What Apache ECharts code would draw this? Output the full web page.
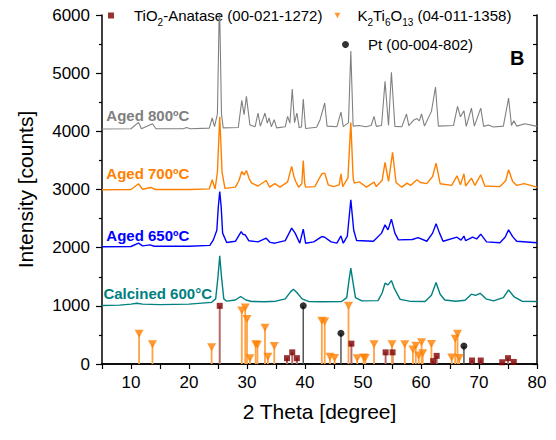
<!DOCTYPE html>
<html><head><meta charset="utf-8">
<script src="https://cdn.jsdelivr.net/npm/echarts@6/dist/echarts.min.js"></script>
<style>html,body{margin:0;padding:0;background:#fff}#c{width:556px;height:440px}</style>
</head><body><div id="c"></div>
<script>
// ---- measured patterns: [2theta (deg), intensity (counts)] ----
const calcined600 = [[5,1005],[8,1012],[10,1030],[11,1045],[12,1030],[15,1020],[20,1030],[23.9,1060],[24.6,1120],[25.0,1500],[25.3,1860],[25.6,1500],[26.0,1120],[26.5,1080],[28.0,1100],[28.9,1160],[29.8,1100],[30.8,1075],[33,1070],[35,1080],[36.6,1120],[37.5,1240],[38.0,1285],[38.6,1230],[39.5,1120],[40.6,1075],[43,1070],[46.3,1075],[47.2,1140],[47.6,1450],[47.9,1647],[48.2,1450],[48.7,1140],[49.8,1085],[52.6,1090],[53.3,1220],[53.8,1389],[54.3,1360],[54.9,1434],[55.4,1300],[56.4,1110],[58,1080],[60.7,1075],[61.8,1180],[62.6,1400],[63.3,1200],[64.1,1100],[66,1080],[67.6,1095],[68.7,1200],[69.4,1180],[70.2,1216],[71.2,1120],[72.5,1085],[74.2,1140],[75.1,1274],[76.0,1160],[77.4,1080],[80,1075]];
const aged650 = [[5,2015],[10,2020],[11.3,2077],[12,2030],[13.3,2048],[14,2025],[20,2025],[23.6,2040],[24.2,2134],[24.8,2300],[25.05,2700],[25.3,2966],[25.55,2700],[25.8,2250],[26.5,2090],[28.0,2110],[29.0,2277],[29.3,2230],[29.7,2220],[30.3,2120],[31.9,2100],[33.3,2163],[34.0,2090],[34.8,2077],[36.6,2120],[37.7,2335],[38.3,2250],[39.1,2077],[39.7,2318],[40.1,2077],[41.5,2100],[42.9,2191],[43.4,2180],[44.5,2100],[45.5,2077],[46.2,2203],[46.6,2077],[47.3,2200],[47.9,2823],[48.4,2300],[48.9,2122],[51.8,2110],[53.2,2250],[53.8,2392],[54.3,2306],[54.9,2490],[55.5,2250],[56.1,2134],[58.5,2140],[59.5,2174],[61.0,2110],[62.0,2250],[62.6,2410],[63.2,2250],[63.8,2110],[66.2,2180],[66.9,2130],[67.4,2200],[67.7,2120],[68.9,2180],[69.6,2150],[70.3,2232],[71.3,2100],[73.6,2085],[74.5,2180],[75.1,2306],[75.8,2190],[76.5,2110],[80,2085]];
const aged700 = [[5,2995],[10,3000],[11.3,3098],[12,3005],[13.4,3035],[14.2,3000],[20,3000],[23.5,3010],[24.0,3167],[24.5,3010],[24.9,3300],[25.3,4250],[25.7,3300],[26.2,3020],[28.0,3040],[28.6,3150],[29.1,3310],[29.5,3250],[29.9,3327],[30.4,3180],[30.8,3110],[31.9,3060],[33.3,3155],[33.9,3040],[34.8,3100],[35.7,3040],[37.0,3130],[37.7,3396],[38.1,3220],[38.4,3138],[38.9,3040],[39.45,3100],[39.7,3499],[39.95,3100],[40.1,3040],[41.7,3050],[42.4,3180],[42.9,3270],[43.4,3282],[44.0,3081],[44.9,3050],[45.9,3080],[46.2,3270],[46.5,3050],[47.4,3200],[47.9,4150],[48.3,3200],[48.5,3110],[49.4,3130],[50.6,3040],[51.9,3127],[52.3,3050],[53.3,3160],[53.8,3465],[54.4,3138],[55.1,3637],[55.7,3120],[56.7,3040],[57.6,3110],[58.2,3070],[59.3,3167],[59.9,3120],[61.0,3100],[62.0,3224],[62.6,3454],[63.3,3100],[65.3,3070],[66.2,3236],[66.8,3080],[67.4,3270],[67.7,3060],[68.7,3196],[69.3,3070],[70.3,3253],[71.0,3060],[73.6,3050],[74.6,3150],[75.1,3339],[75.8,3138],[76.5,3070],[77.8,3100],[80,3040]];
const aged800 = [[5,4040],[10,4045],[11.3,4153],[11.8,4045],[13.7,4131],[14.3,4045],[19.0,4045],[19.6,4067],[20.2,4045],[23.5,4055],[24.0,4229],[24.4,4080],[24.9,4300],[25.25,6300],[25.6,4300],[25.9,4060],[28.5,4065],[29.1,4532],[29.5,4286],[29.9,4601],[30.5,4110],[31.4,4080],[31.9,4315],[32.3,4090],[33.1,4315],[33.5,4140],[33.8,4229],[34.2,4080],[34.7,4200],[35.1,4060],[36.6,4080],[37.0,4257],[37.4,4140],[37.8,4728],[38.2,4150],[38.6,4315],[39.0,4060],[39.4,4080],[39.7,4555],[40.1,4050],[42.0,4070],[42.6,4200],[43.4,4487],[43.8,4090],[45.5,4080],[46.2,4332],[46.6,4080],[47.5,4150],[47.9,5380],[48.3,4090],[49.3,4100],[50.5,4080],[51.4,4100],[51.9,4257],[52.3,4085],[53.2,4100],[53.8,4859],[54.4,4100],[54.9,5017],[55.5,4085],[56.7,4080],[57.5,4298],[57.9,4100],[58.7,4190],[59.3,4220],[59.7,4180],[60.1,4298],[60.6,4090],[61.8,4343],[62.5,4762],[63.0,4090],[65.6,4100],[66.3,4429],[66.8,4250],[67.4,4355],[67.8,4085],[68.7,4400],[69.2,4090],[70.3,4400],[70.8,4085],[71.6,4110],[72.5,4075],[74.2,4090],[75.1,4573],[75.6,4100],[76.0,4180],[76.5,4090],[77.9,4130],[80,4085]];

// ---- reference stick patterns ----
const anataseX = [25.3, 36.9, 37.8, 38.6, 48.0, 53.9, 55.1, 62.1, 62.7, 68.8, 70.3, 74.0, 75.0, 76.0];
const anataseY = [1000, 100, 200, 100, 350, 200, 200, 50, 140, 60, 60, 30, 100, 35];
const k2tiX = [11.4, 13.7, 23.9, 29.1, 29.7, 30.0, 30.5, 31.5, 31.8, 33.1, 33.6, 34.7, 42.9, 43.4, 44.3, 45.1, 47.5, 49.0, 50.1, 50.4, 51.9, 55.0, 57.2, 58.6, 59.1, 59.6, 60.1, 60.3, 61.8, 65.3, 65.9, 66.3, 66.6];
const k2tiY = [520, 340, 290, 920, 970, 775, 100, 340, 330, 625, 125, 310, 745, 730, 125, 105, 1000, 100, 110, 105, 340, 340, 340, 250, 315, 145, 375, 185, 345, 110, 435, 520, 105];
const ptX = [39.7, 46.2, 67.4];
const ptY = [1000, 530, 310];

const phaseNames = ['TiO2-Anatase (00-021-1272)', 'K2Ti6O13 (04-011-1358)', 'Pt (00-004-802)'];
const curveNames = ['Calcined 600°C', 'Aged 650ºC', 'Aged 700ºC', 'Aged 800ºC'];
const curveColors = ['#008080', '#0000FF', '#FF8000', '#808080'];
const curveData = [calcined600, aged650, aged700, aged800];
const labelAnchors = [[14.6, 1205], [12.9, 2203], [12.9, 3270], [12.9, 4268]];

const FONT = 'Liberation Sans, Arial, sans-serif';
const triPath = 'path://M0,0L10,0L5,9Z';

function pairs(xs, ys) { return xs.map((x, i) => [x, ys[i]]); }
function sticks(name, xs, ys, color, w) {
  return {
    type: 'custom', name: name, silent: true, z: 2, clip: true,
    data: pairs(xs, ys), encode: { x: 0, y: 1 },
    renderItem: function (params, api) {
      const a = api.coord([api.value(0), 0]);
      const b = api.coord([api.value(0), api.value(1)]);
      return { type: 'line', shape: { x1: a[0], y1: a[1], x2: b[0], y2: b[1] }, style: { stroke: color, lineWidth: w } };
    }
  };
}

const series = [];
curveData.forEach(function (d, i) {
  series.push({
    type: 'line', name: curveNames[i], data: d, showSymbol: false, symbol: 'none',
    lineStyle: { color: curveColors[i], width: i === 3 ? 1.1 : 1.4 }, z: 3 + i, clip: true, animation: false,
    markPoint: {
      symbol: 'circle', symbolSize: 0, animation: false,
      data: [{ coord: labelAnchors[i], value: curveNames[i] }],
      label: { show: true, position: 'inside', formatter: curveNames[i], color: curveColors[i], fontSize: 15, fontWeight: 'bold', fontFamily: FONT }
    }
  });
});
series.push(sticks('s1', anataseX, anataseY, '#B86A6A', 2));
series.push(sticks('s2', k2tiX, k2tiY, '#FFA347', 1.8));
series.push(sticks('s3', ptX, ptY, '#555555', 1.5));
series.push({ type: 'scatter', name: phaseNames[0], data: pairs(anataseX, anataseY), symbol: 'rect', symbolSize: 6, itemStyle: { color: '#800000' }, z: 8, silent: true });
series.push({ type: 'scatter', name: phaseNames[1], data: pairs(k2tiX, k2tiY), symbol: triPath, symbolSize: [9, 8], itemStyle: { color: '#FF8000' }, z: 8, silent: true });
series.push({ type: 'scatter', name: phaseNames[2], data: pairs(ptX, ptY), symbol: 'circle', symbolSize: 7, itemStyle: { color: '#000000' }, z: 8, silent: true });

const legendRich = {
  n: { fontSize: 15, fontFamily: FONT, color: '#000', lineHeight: 18 },
  s: { fontSize: 10, fontFamily: FONT, color: '#000', lineHeight: 24, verticalAlign: 'bottom' },
  g1: { width: 15 }, g2: { width: 12 }, g3: { width: 14 }
};
function legendFmt(name) {
  if (name === phaseNames[0]) return '{g1|}{n|TiO}{s|2}{n|-Anatase (00-021-1272)}';
  if (name === phaseNames[1]) return '{g2|}{n|K}{s|2}{n|Ti}{s|6}{n|O}{s|13}{n| (04-011-1358)}';
  return '{g3|}{n|Pt (00-004-802)}';
}

const chart = echarts.init(document.getElementById('c'), null, { renderer: 'svg' });
chart.setOption({
  animation: false,
  backgroundColor: '#fff',
  textStyle: { fontFamily: FONT },
  title: { text: 'B', left: 505, top: 43, textStyle: { fontSize: 20, fontWeight: 'bold', color: '#000', fontFamily: FONT } },
  grid: { left: 102, right: 19, top: 15, bottom: 76, containLabel: false, outerBoundsMode: 'none' },
  legend: [
    { data: [{ name: phaseNames[0], icon: 'rect' }, { name: phaseNames[1], icon: triPath }], left: 103, top: 3, itemWidth: 6, itemHeight: 6, itemGap: 12, selectedMode: false, formatter: legendFmt, textStyle: { rich: legendRich } },
    { data: [{ name: phaseNames[2], icon: 'circle' }], left: 337, top: 32, itemWidth: 7, itemHeight: 7, selectedMode: false, formatter: legendFmt, textStyle: { rich: legendRich } }
  ],
  xAxis: [
    {
      type: 'value', min: 5, max: 80, interval: 5, position: 'bottom',
      name: '2 Theta [degree]', nameLocation: 'middle', nameGap: 37,
      nameTextStyle: { fontSize: 21, color: '#000', fontFamily: FONT },
      axisLine: { lineStyle: { color: '#000', width: 1.5 } },
      axisTick: { show: true, length: 5, lineStyle: { color: '#000', width: 1.2 } },
      axisLabel: { fontSize: 17, color: '#000', margin: 10, fontFamily: FONT, formatter: function (v) { return v % 10 === 0 ? String(v) : ''; } },
      splitLine: { show: false }
    },
    {
      type: 'value', min: 5, max: 80, interval: 5, position: 'top',
      axisLine: { show: true, lineStyle: { color: '#000', width: 1.5 } },
      axisTick: { show: false }, axisLabel: { show: false }, splitLine: { show: false }
    }
  ],
  yAxis: [
    {
      type: 'value', min: 0, max: 6000, interval: 1000, position: 'left',
      name: 'Intensity [counts]', nameLocation: 'middle', nameGap: 66,
      nameTextStyle: { fontSize: 21, color: '#000', fontFamily: FONT },
      axisLine: { show: true, lineStyle: { color: '#000', width: 1.5 } },
      axisTick: { show: true, length: 6, lineStyle: { color: '#000', width: 1.2 } },
      minorTick: { show: true, splitNumber: 2, length: 3, lineStyle: { color: '#000', width: 1.2 } },
      axisLabel: { fontSize: 17, color: '#000', margin: 12, fontFamily: FONT, formatter: function (v) { return String(v); } },
      splitLine: { show: false }
    },
    {
      type: 'value', min: 0, max: 6000, interval: 500, position: 'right',
      axisLine: { show: true, lineStyle: { color: '#000', width: 1.5 } },
      axisTick: { show: true, inside: true, length: 4, lineStyle: { color: '#000', width: 1.2 } },
      axisLabel: { show: false }, splitLine: { show: false }
    }
  ],
  series: series
});
</script></body></html>
